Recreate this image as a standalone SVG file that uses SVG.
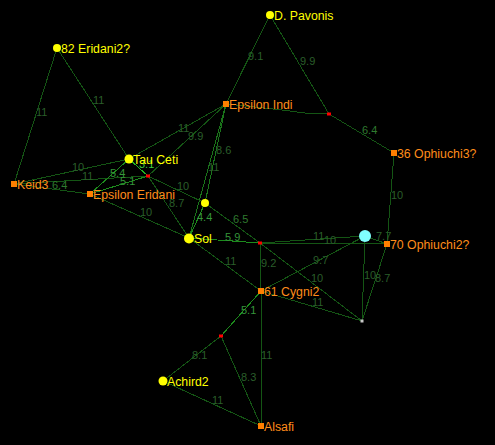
<svg xmlns="http://www.w3.org/2000/svg" width="495" height="445" viewBox="0 0 495 445">
<style>
.e{stroke:#145514;stroke-width:1;fill:none}
.e2{stroke:#1a741a;stroke-width:1;fill:none}
.e3{stroke:#1c8c1c;stroke-width:1;fill:none}
.e4{stroke:#22b422;stroke-width:1;fill:none}
#connectors{shape-rendering:crispEdges}
.l{font-family:"Liberation Sans",Arial,sans-serif;font-size:11px;fill:#2a5e2a}
.l2{font-family:"Liberation Sans",Arial,sans-serif;font-size:11px;fill:#2f7a2f}
.l3{font-family:"Liberation Sans",Arial,sans-serif;font-size:11px;fill:#35963a}
.l4{font-family:"Liberation Sans",Arial,sans-serif;font-size:11px;fill:#3ccc3c}
.ny{fill:#ffff00}
.no{fill:#ff8000}
.nr{fill:#ff0000}
.ty{font-family:"Liberation Sans",Arial,sans-serif;font-size:12.3px;fill:#ffff00}
.to{font-family:"Liberation Sans",Arial,sans-serif;font-size:12.3px;fill:#ff8c1a}
</style>
<rect width="495" height="445" fill="#000"/>
<g id="connectors">
<line class="e" x1="270" y1="15" x2="226" y2="104"/>
<line class="e" x1="270" y1="15" x2="329" y2="114"/>
<polyline class="e" points="226,104 255,107 282,110 305,113 329,114"/>
<line class="e" x1="329" y1="114" x2="394" y2="153"/>
<line class="e" x1="394" y1="153" x2="387" y2="244"/>
<line class="e" x1="57" y1="48" x2="14" y2="184"/>
<line class="e" x1="57" y1="48" x2="129" y2="159"/>
<line class="e" x1="14" y1="184" x2="129" y2="159"/>
<line class="e" x1="14" y1="184" x2="148" y2="176"/>
<line class="e" x1="14" y1="184" x2="90" y2="194"/>
<line class="e3" x1="90" y1="194" x2="129" y2="159"/>
<line class="e3" x1="90" y1="194" x2="148" y2="176"/>
<line class="e4" x1="129" y1="159" x2="148" y2="176"/>
<line class="e" x1="129" y1="159" x2="226" y2="104"/>
<line class="e" x1="226" y1="104" x2="148" y2="176"/>
<line class="e2" x1="226" y1="104" x2="205" y2="203"/>
<line class="e2" x1="226" y1="104" x2="189" y2="238"/>
<line class="e" x1="148" y1="176" x2="205" y2="203"/>
<line class="e" x1="148" y1="176" x2="189" y2="238"/>
<line class="e" x1="90" y1="194" x2="189" y2="238"/>
<line class="e3" x1="205" y1="203" x2="189" y2="238"/>
<line class="e" x1="205" y1="203" x2="260" y2="243"/>
<line class="e3" x1="189" y1="238" x2="260" y2="243"/>
<line class="e" x1="189" y1="238" x2="261" y2="291"/>
<line class="e" x1="260" y1="243" x2="261" y2="291"/>
<line class="e" x1="260" y1="243" x2="365" y2="236"/>
<line class="e" x1="260" y1="243" x2="387" y2="244"/>
<line class="e" x1="260" y1="243" x2="362" y2="321"/>
<line class="e" x1="261" y1="291" x2="365" y2="236"/>
<line class="e" x1="261" y1="291" x2="362" y2="321"/>
<line class="e" x1="365" y1="236" x2="387" y2="244"/>
<line class="e" x1="365" y1="236" x2="362" y2="321"/>
<line class="e" x1="387" y1="244" x2="362" y2="321"/>
<line class="e3" x1="261" y1="291" x2="221" y2="336"/>
<line class="e" x1="163" y1="381" x2="221" y2="336"/>
<line class="e" x1="221" y1="336" x2="261" y2="426"/>
<line class="e" x1="261" y1="291" x2="261" y2="426"/>
<line class="e" x1="163" y1="381" x2="261" y2="426"/>
</g>
<g id="edge-labels">
<text class="l" x="248" y="60">9.1</text>
<text class="l" x="300" y="65">9.9</text>
<text class="l2" x="362" y="134">6.4</text>
<text class="l" x="391" y="199">10</text>
<text class="l" x="36" y="116">11</text>
<text class="l" x="93" y="104">11</text>
<text class="l" x="72" y="171">10</text>
<text class="l" x="82" y="180">11</text>
<text class="l2" x="52" y="189">6.4</text>
<text class="l3" x="110" y="177">5.4</text>
<text class="l3" x="120" y="185">5.1</text>
<text class="l4" x="139" y="168">3.1</text>
<text class="l" x="178" y="132">11</text>
<text class="l" x="188" y="140">9.9</text>
<text class="l" x="216" y="154">8.6</text>
<text class="l" x="208" y="171">11</text>
<text class="l" x="177" y="190">10</text>
<text class="l" x="169" y="207">8.7</text>
<text class="l" x="140" y="216">10</text>
<text class="l3" x="197" y="221">4.4</text>
<text class="l2" x="233" y="223">6.5</text>
<text class="l3" x="225" y="241">5.9</text>
<text class="l" x="225" y="265">11</text>
<text class="l" x="261" y="267">9.2</text>
<text class="l" x="313" y="240">11</text>
<text class="l" x="324" y="244">10</text>
<text class="l" x="311" y="282">10</text>
<text class="l" x="313" y="264">9.7</text>
<text class="l" x="312" y="306">11</text>
<text class="l" x="376" y="240">7.7</text>
<text class="l" x="364" y="279">10</text>
<text class="l" x="375" y="282">8.7</text>
<text class="l3" x="241" y="314">5.1</text>
<text class="l" x="192" y="359">8.1</text>
<text class="l" x="241" y="381">8.3</text>
<text class="l" x="261" y="359">11</text>
<text class="l" x="212" y="404">11</text>
</g>
<g id="red-junctions">
<rect class="nr" x="327" y="112.5" width="4" height="3"/>
<rect class="nr" x="146" y="174.5" width="4" height="3"/>
<rect class="nr" x="258" y="241.5" width="4" height="3"/>
<rect class="nr" x="219" y="334.5" width="4" height="3"/>
</g>
<g id="node-d-pavonis"><circle class="ny" cx="270" cy="15" r="4"/><text class="ty" x="274" y="19.5">D. Pavonis</text></g>
<g id="node-82-eridani2"><circle class="ny" cx="57" cy="48" r="4"/><text class="ty" x="61" y="52.5">82 Eridani2?</text></g>
<g id="node-epsilon-indi"><rect class="no" x="223" y="101" width="6" height="6"/><text class="to" x="229" y="108.5">Epsilon Indi</text></g>
<g id="node-36-ophiuchi3"><rect class="no" x="391" y="150" width="6" height="6"/><text class="to" x="397" y="157.5">36 Ophiuchi3?</text></g>
<g id="node-tau-ceti"><circle class="ny" cx="129" cy="159" r="4.5"/><text class="ty" x="133" y="163.5">Tau Ceti</text></g>
<g id="node-keid3"><rect class="no" x="11" y="181" width="6" height="6"/><text class="to" x="17" y="188.5">Keid3</text></g>
<g id="node-epsilon-eridani"><rect class="no" x="87" y="191" width="6" height="6"/><text class="to" x="93" y="198.5">Epsilon Eridani</text></g>
<g id="node-unnamed-yellow"><circle class="ny" cx="205" cy="203" r="4"/></g>
<g id="node-sol"><circle class="ny" cx="189" cy="238.5" r="5"/><text class="ty" x="194" y="243">Sol</text></g>
<g id="node-cyan"><circle fill="#80ffff" cx="365" cy="236" r="6"/></g>
<g id="node-70-ophiuchi2"><rect class="no" x="384" y="241" width="6" height="6"/><text class="to" x="390" y="248.5">70 Ophiuchi2?</text></g>
<g id="node-61-cygni2"><rect class="no" x="258" y="288" width="6" height="6"/><text class="to" x="264" y="295.5">61 Cygni2</text></g>
<g id="node-white"><rect fill="#c8c8c8" x="360.5" y="319.5" width="3" height="3"/></g>
<g id="node-achird2"><circle class="ny" cx="163" cy="381" r="4.5"/><text class="ty" x="167" y="385.5">Achird2</text></g>
<g id="node-alsafi"><rect class="no" x="258" y="423" width="6" height="6"/><text class="to" x="264" y="430.5">Alsafi</text></g>
</svg>
